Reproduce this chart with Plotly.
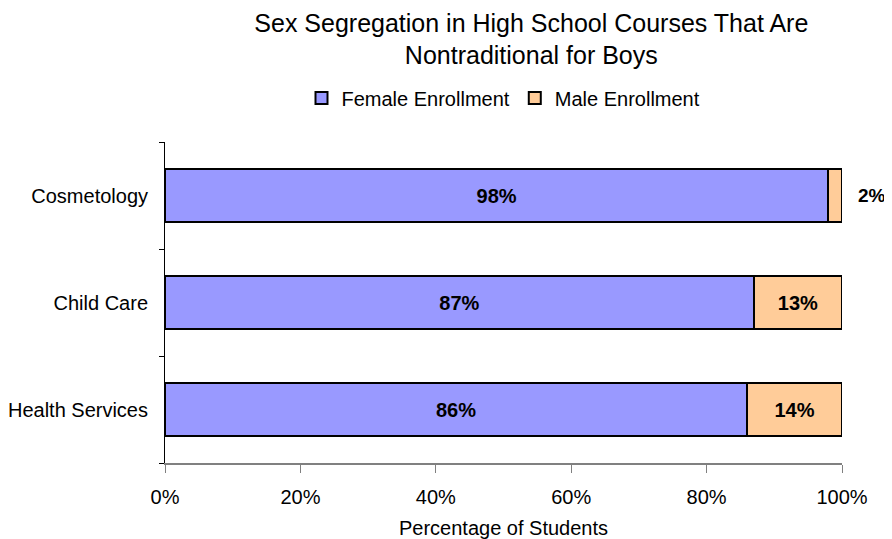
import plotly.graph_objects as go

courses = ["Health Services", "Child Care", "Cosmetology"]
female = [86, 87, 98]
male = [14, 13, 2]
female_labels = ["86%", "87%", "98%"]
male_labels = ["14%", "13%", ""]
outside_label = "2%"   # Cosmetology male share, drawn beside the bar
tick_vals = [0, 20, 40, 60, 80, 100]
tick_text = ["0%", "20%", "40%", "60%", "80%", "100%"]

font_body = "Liberation Sans, Arial, sans-serif"
label_font = dict(family=font_body, size=20, color="black", weight="bold")

fig = go.Figure()
fig.add_trace(go.Bar(
    y=courses, x=female, orientation="h", name="Female Enrollment",
    marker=dict(color="#9999FF", line=dict(color="black", width=2)),
    text=female_labels, textposition="inside", insidetextanchor="middle",
    textfont=label_font, width=0.5,
))
fig.add_trace(go.Bar(
    y=courses, x=male, orientation="h", name="Male Enrollment",
    marker=dict(color="#FFCC99", line=dict(color="black", width=2)),
    text=male_labels, textposition="inside", insidetextanchor="middle",
    textfont=label_font, width=0.5,
))

# small segment label sits to the right of the bar end
fig.add_annotation(
    x=female[2] + male[2], y=courses[2], text=outside_label,
    xanchor="left", xshift=14, showarrow=False,
    font=dict(family=font_body, size=19, color="black", weight="bold"),
)

# page body adds an 8px offset, so the figure is 8px smaller each way
fig.update_layout(
    width=884, height=531,
    barmode="stack",
    plot_bgcolor="white", paper_bgcolor="white",
    margin=dict(l=157, r=50, t=134, b=76),
    font=dict(family=font_body, size=20, color="black"),
    title=dict(
        text="Sex Segregation in High School Courses That Are<br>Nontraditional for Boys",
        x=0.592, xanchor="center", yref="container", y=0.955, yanchor="middle",
        font=dict(family=font_body, size=25, color="black"),
    ),
    legend=dict(
        orientation="h", x=0.5, xanchor="center", y=1.137, yanchor="middle",
        font=dict(family=font_body, size=20), traceorder="normal",
    ),
    showlegend=True,
)
fig.update_xaxes(
    range=[0, 100], tickvals=tick_vals, ticktext=tick_text,
    showgrid=False, zeroline=False,
    showline=True, linecolor="#808080", linewidth=2,
    ticks="outside", ticklen=8, tickcolor="#808080", tickwidth=1,
    ticklabelstandoff=7, automargin=False,
    title=dict(text="Percentage of Students", standoff=15, font=dict(size=20)),
)
fig.update_yaxes(
    showgrid=False, zeroline=False,
    showline=True, linecolor="black", linewidth=1,
    ticks="outside", ticklen=5, tickcolor="black", tickson="boundaries",
    ticklabelstandoff=12, automargin=False,
)

fig.write_html("out.html")
